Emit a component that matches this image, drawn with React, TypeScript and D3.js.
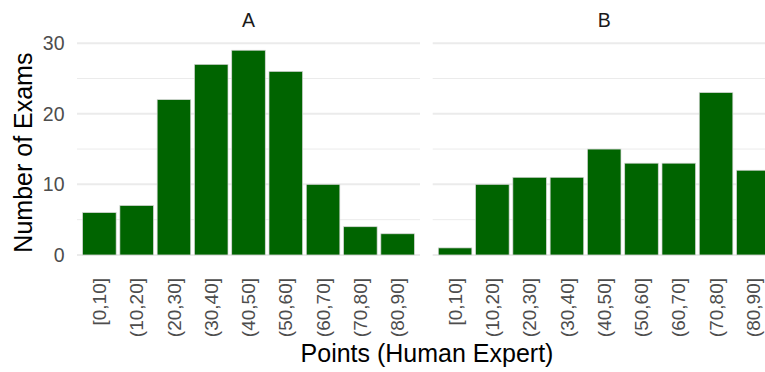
import React from "react";
import * as d3 from "d3";

const categories = ["[0,10]", "(10,20]", "(20,30]", "(30,40]", "(40,50]", "(50,60]", "(60,70]", "(70,80]", "(80,90]"];
const panels = ["A", "B"];
const countsA = [6, 7, 22, 27, 29, 26, 10, 4, 3];
const countsB = [1, 10, 11, 11, 15, 13, 13, 23, 12];
const majorTicks = [0, 10, 20, 30];
const minorTicks = [5, 15, 25];

const W = 765;
const H = 372;
const FONT = "'Liberation Sans', Arial, Helvetica, sans-serif";

export default function App() {
  const series = [countsA, countsB];
  const maxVal = d3.max([...countsA, ...countsB]) as number;
  const pad = maxVal * 0.05;
  const y = d3.scaleLinear().domain([-pad, maxVal + pad]).range([265.2, 40.0]);

  // facet panels share the y scale; the second one runs past the right edge
  const panelX: [number, number][] = [
    [77, 420],
    [432.7, 775.7],
  ];

  return (
    <svg
      width={W}
      height={H}
      style={{ position: "absolute", left: 0, top: 0, background: "#fff", overflow: "hidden" }}
      fontFamily={FONT}
    >
      <rect x={0} y={0} width={W} height={H} fill="#fff" />
      {panels.map((name, pi) => {
        const [x0, x1] = panelX[pi];
        const x = d3.scaleBand<string>().domain(categories).range([x0, x1]).paddingInner(0.1).paddingOuter(0.15);
        const vals = series[pi];
        return (
          <g key={name}>
            {minorTicks.map((t) => (
              <line key={"mi" + t} x1={x0} x2={x1} y1={y(t)} y2={y(t)} stroke="#ebebeb" strokeWidth={1} />
            ))}
            {majorTicks.map((t) => (
              <line key={"ma" + t} x1={x0} x2={x1} y1={y(t)} y2={y(t)} stroke="#ebebeb" strokeWidth={2} />
            ))}
            {vals.map((v, i) => (
              <rect
                key={i}
                x={x(categories[i])}
                width={x.bandwidth()}
                y={y(v)}
                height={y(0) - y(v)}
                fill="#006400"
                stroke="#d6d6d6"
                strokeWidth={0.7}
              />
            ))}
            {categories.map((c) => {
              const cx = (x(c) as number) + x.bandwidth() / 2;
              return (
                <text
                  key={c}
                  transform={`translate(${cx},278) rotate(-90)`}
                  textAnchor="end"
                  dy="0.35em"
                  fontSize={19}
                  fill="#4d4d4d"
                >
                  {c}
                </text>
              );
            })}
            <text x={x0 + 171.5} y={27.3} textAnchor="middle" fontSize={19.5} fill="#1a1a1a">
              {name}
            </text>
          </g>
        );
      })}
      {majorTicks.map((t) => (
        <text key={t} x={64.5} y={y(t)} dy="0.35em" textAnchor="end" fontSize={19.5} fill="#4d4d4d">
          {t}
        </text>
      ))}
      <text transform={`translate(32,152.6) rotate(-90)`} textAnchor="middle" fontSize={25} fill="#000">
        Number of Exams
      </text>
      <text x={427} y={362} textAnchor="middle" fontSize={25} fill="#000">
        Points (Human Expert)
      </text>
    </svg>
  );
}
